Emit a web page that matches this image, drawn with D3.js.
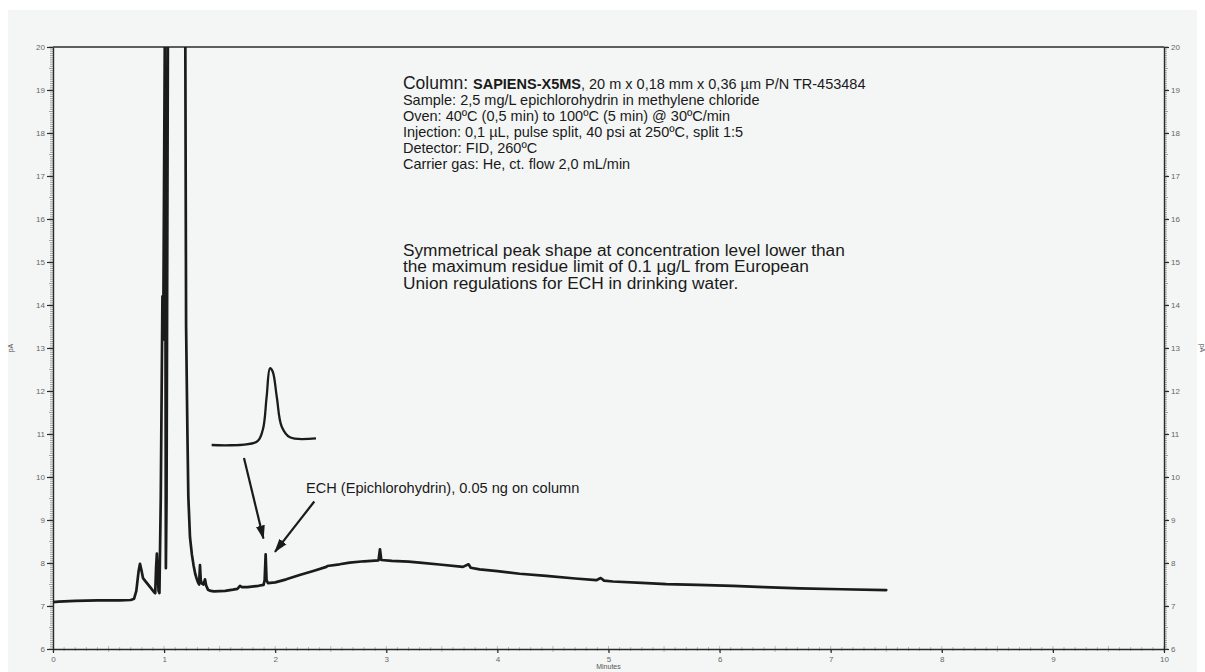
<!DOCTYPE html>
<html><head><meta charset="utf-8">
<script src="https://cdn.jsdelivr.net/npm/d3@7"></script>
<style>
body{margin:0;background:#fff}
svg{display:block;font-family:"Liberation Sans",Arial,sans-serif}
</style>
</head><body>
<svg id="c" width="1205" height="672"></svg>
<script>
// ---- data ----
const timeMin = [0.00,0.05,0.20,0.40,0.60,0.70,0.73,0.75,0.77,0.783,0.795,0.81,0.84,0.88,0.91,0.92,0.928,0.935,0.942,0.95,0.958,0.97,0.985,0.992,1.008,1.016,1.022,1.035,1.17,1.19,1.198,1.21,1.218,1.233,1.25,1.265,1.28,1.295,1.305,1.315,1.323,1.33,1.34,1.355,1.368,1.378,1.395,1.42,1.45,1.55,1.62,1.66,1.683,1.70,1.75,1.85,1.895,1.905,1.914,1.922,1.935,2.0,2.1,2.22,2.35,2.46,2.47,2.58,2.67,2.8,2.93,2.943,2.955,3.05,3.2,3.3,3.5,3.69,3.74,3.76,3.84,4.0,4.2,4.44,4.7,4.89,4.93,4.96,5.04,5.3,5.52,5.8,6.12,6.4,6.72,7.1,7.5];
const signalPA = [7.09,7.10,7.12,7.13,7.13,7.14,7.17,7.35,7.80,7.98,7.85,7.65,7.55,7.42,7.32,7.30,7.90,8.22,7.80,7.35,7.30,9.5,14.2,13.2,21.0,7.88,9.5,21.0,21.0,21.0,13.5,11.0,9.55,8.6,8.2,7.95,7.75,7.62,7.55,7.50,7.95,7.60,7.52,7.50,7.62,7.48,7.38,7.35,7.34,7.35,7.38,7.40,7.47,7.44,7.44,7.47,7.49,7.60,8.20,7.60,7.53,7.55,7.62,7.72,7.82,7.91,7.93,7.97,8.01,8.04,8.06,8.32,8.07,8.05,8.03,8.01,7.96,7.91,7.97,7.89,7.85,7.81,7.75,7.70,7.64,7.60,7.65,7.59,7.57,7.54,7.51,7.49,7.47,7.44,7.41,7.39,7.37];

// zoomed inset of the ECH peak (drawn in chart units)
const insetTime = [1.428,1.834,1.888,1.923,1.953,1.978,2.014,2.059,2.133,2.367];
const insetPA   = [10.744,10.821,11.093,11.867,12.528,12.449,11.867,11.170,10.923,10.900];

// annotation arrows
const arrowFromT = [1.719, 2.352];
const arrowFromPA = [10.44, 9.43];
const arrowToT = [1.894, 1.998];
const arrowToPA = [8.57, 8.26];

const xTickValues = [0,1,2,3,4,5,6,7,8,9,10];
const yTickValues = [6,7,8,9,10,11,12,13,14,15,16,17,18,19,20];

const infoLines = [
  "Sample: 2,5 mg/L epichlorohydrin in methylene chloride",
  "Oven: 40ºC (0,5 min) to 100ºC (5 min) @ 30ºC/min",
  "Injection: 0,1 µL, pulse split, 40 psi at 250ºC, split 1:5",
  "Detector: FID, 260ºC",
  "Carrier gas: He, ct. flow 2,0 mL/min"
];
const noteLines = [
  "Symmetrical peak shape at concentration level lower than",
  "the maximum residue limit of 0.1 µg/L from European",
  "Union regulations for ECH in drinking water."
];
const echLabel = "ECH (Epichlorohydrin), 0.05 ng on column";

// ---- drawing ----
const svg = d3.select("#c");
const W = 1205, H = 672;
const L = 53, R = 1164, T = 47, B = 649;

svg.append("rect").attr("x",8).attr("y",10).attr("width",W-16).attr("height",H-10).attr("fill","#f4f6f5");

const x = d3.scaleLinear().domain([0,10]).range([L,R]);
const y = d3.scaleLinear().domain([6,20]).range([B,T]);

svg.append("defs").append("clipPath").attr("id","plot")
  .append("rect").attr("x",L).attr("y",T).attr("width",R-L).attr("height",B-T);

const marker = svg.select("defs").append("marker")
  .attr("id","ah").attr("viewBox","0 -5 14 10").attr("refX",13).attr("refY",0)
  .attr("markerWidth",14).attr("markerHeight",10).attr("markerUnits","userSpaceOnUse")
  .attr("orient","auto");
marker.append("path").attr("d","M0,-4.5L14,0L0,4.5Z").attr("fill","#1a1a1a");

// minor ticks
const minorY = d3.range(6,20.001,0.05).map(v=>+v.toFixed(2));
const minorX = d3.range(0,10.001,0.1).map(v=>+v.toFixed(2));
const isHalf = d => Math.abs(d*2-Math.round(d*2))<1e-6;
const gMinor = svg.append("g").attr("stroke","#8a8a8a").attr("stroke-width",0.8);
gMinor.selectAll(".ml").data(minorY).join("line")
  .attr("x1",d=> isHalf(d)? L-4 : L-3).attr("x2",L)
  .attr("y1",d=>y(d)).attr("y2",d=>y(d));
gMinor.selectAll(".mr").data(minorY).join("line")
  .attr("x1",R).attr("x2",d=> isHalf(d)? R+4 : R+3)
  .attr("y1",d=>y(d)).attr("y2",d=>y(d));
gMinor.selectAll(".mb").data(minorX).join("line")
  .attr("stroke","#aaa")
  .attr("x1",d=>x(d)).attr("x2",d=>x(d))
  .attr("y1",d=> isHalf(d)? B-3 : B-2)
  .attr("y2",d=> isHalf(d)? B+3 : B+2);

function styleAxis(g){
  g.select(".domain").attr("stroke","#2a2a2a").attr("stroke-width",1.4);
  g.selectAll(".tick line").attr("stroke","#2a2a2a").attr("stroke-width",1.2);
  g.selectAll(".tick text").attr("fill","#666").attr("font-size","8px")
   .attr("font-family","'Liberation Sans',Arial,sans-serif");
}
svg.append("g").attr("transform",`translate(${L},0)`)
  .call(d3.axisLeft(y).tickValues(yTickValues).tickSize(6).tickSizeOuter(0).tickPadding(2).tickFormat(d3.format("d")))
  .call(styleAxis);
svg.append("g").attr("transform",`translate(${R},0)`)
  .call(d3.axisRight(y).tickValues(yTickValues).tickSize(5).tickSizeOuter(0).tickPadding(2).tickFormat(d3.format("d")))
  .call(styleAxis);
svg.append("g").attr("transform",`translate(0,${B})`)
  .call(d3.axisBottom(x).tickValues(xTickValues).tickSize(4).tickSizeOuter(0).tickPadding(3).tickFormat(d3.format("d")))
  .call(styleAxis);
svg.append("line").attr("x1",L).attr("x2",R).attr("y1",T).attr("y2",T)
  .attr("stroke","#2a2a2a").attr("stroke-width",1.4);

// axis titles
svg.append("text").attr("transform",`translate(13,${(T+B)/2}) rotate(-90)`)
  .attr("text-anchor","middle").attr("font-size","7px").attr("fill","#555").text("pA");
svg.append("text").attr("transform",`translate(1200,${(T+B)/2}) rotate(90)`)
  .attr("text-anchor","middle").attr("font-size","7px").attr("fill","#555").text("pA");
svg.append("text").attr("x",(L+R)/2).attr("y",669)
  .attr("text-anchor","middle").attr("font-size","7px").attr("fill","#555").text("Minutes");

// trace
const pts = timeMin.map((t,i)=>[t,signalPA[i]]);
svg.append("path").datum(pts).attr("clip-path","url(#plot)")
  .attr("fill","none").attr("stroke","#1b1b1b").attr("stroke-width",2.7)
  .attr("stroke-linejoin","round").attr("stroke-linecap","round")
  .attr("d",d3.line().x(d=>x(d[0])).y(d=>y(d[1])));

// inset
const ins = insetTime.map((t,i)=>[t,insetPA[i]]);
svg.append("path").datum(ins).attr("fill","none").attr("stroke","#1b1b1b").attr("stroke-width",2.3)
  .attr("stroke-linejoin","round")
  .attr("d",d3.line().curve(d3.curveCatmullRom.alpha(0.5)).x(d=>x(d[0])).y(d=>y(d[1])));

// arrows
svg.selectAll(".arrow").data(arrowFromT).join("line")
  .attr("x1",(d,i)=>x(arrowFromT[i])).attr("y1",(d,i)=>y(arrowFromPA[i]))
  .attr("x2",(d,i)=>x(arrowToT[i])).attr("y2",(d,i)=>y(arrowToPA[i]))
  .attr("stroke","#1a1a1a").attr("stroke-width",2.2).attr("marker-end","url(#ah)");

// text annotations
const info = svg.append("text").attr("x",x(3.15)).attr("y",89).attr("fill","#1a1a1a");
info.append("tspan").attr("font-size","17.5px").text("Column: ");
info.append("tspan").attr("font-size","14.5px").attr("font-weight","bold").text("SAPIENS-X5MS");
info.append("tspan").attr("font-size","14.5px").text(", 20 m x 0,18 mm x 0,36 µm P/N TR-453484");
svg.selectAll(".info").data(infoLines).join("text")
  .attr("x",x(3.15)).attr("y",(d,i)=>105+i*16)
  .attr("font-size","14.5px").attr("fill","#1a1a1a").text(d=>d);
svg.selectAll(".note").data(noteLines).join("text")
  .attr("x",x(3.15)).attr("y",(d,i)=>255.5+i*16.5)
  .attr("font-size","17.3px").attr("fill","#1a1a1a").text(d=>d);
svg.append("text").attr("x",x(2.277)).attr("y",492.5)
  .attr("font-size","14.6px").attr("fill","#1a1a1a").text(echLabel);
</script>
</body></html>
